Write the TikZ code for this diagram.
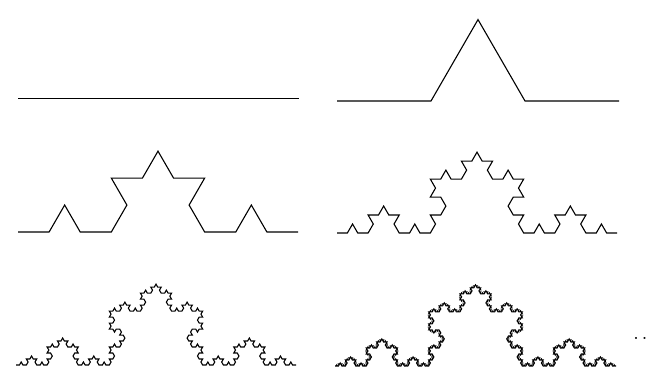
\documentclass[tikz,border=0pt]{standalone}
\usetikzlibrary{lindenmayersystems}
\pgfdeclarelindenmayersystem{Koch}{\rule{F -> F+F--F+F}}
\tikzset{
  kochline/.style={line width=1.1pt, black, line join=miter, line cap=butt},
}
\newcommand{\kochat}[4]{% x, y(img), length, order
  \begin{scope}[shift={(#1,{371-#2})}]
    \pgfmathsetmacro{\kstep}{#3/(3^#4)}
    \draw[kochline, l-system={Koch, axiom=F, order=#4, step=\kstep pt, angle=60}] (0,0) l-system;
  \end{scope}}
\begin{document}
\begin{tikzpicture}[x=1pt,y=1pt]
\useasboundingbox (0,0) rectangle (648,371);
\fill[white] (0,0) rectangle (648,371);
\draw[kochline] (18,{371-98.5}) coordinate (a0) -- (299,{371-98.5}) coordinate (b0);
\kochat{337}{101}{282}{1}
\kochat{18}{232}{280}{2}
\kochat{337}{233}{280}{3}
\kochat{16}{365}{280}{4}
\kochat{335}{366}{281}{5}
\node[font=\Large\bfseries, inner sep=0pt] (dots) at (640.5,{371-338}) {.\hspace{4pt}.};
\end{tikzpicture}
\end{document}
